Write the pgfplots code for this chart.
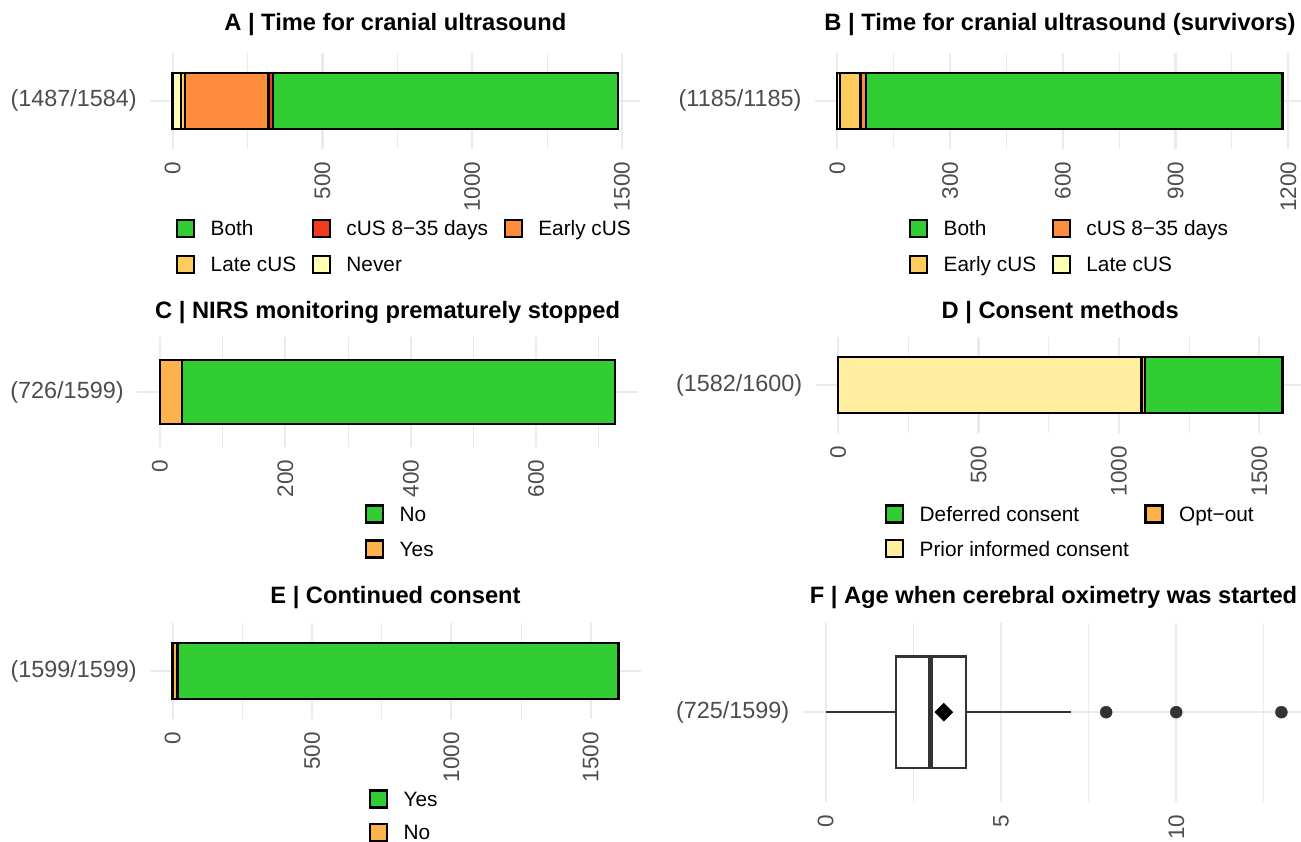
\documentclass[border=0pt]{standalone}
\usepackage{fontspec}
\setmainfont{Liberation Sans}
\usepackage{pgfplots}
\pgfplotsset{compat=1.18}
\definecolor{gridc}{HTML}{EBEBEB}
\definecolor{axc}{HTML}{4D4D4D}
\definecolor{cgreen}{HTML}{32CD32}
\definecolor{ylA}{HTML}{FFFFB2}
\definecolor{ylB}{HTML}{FECC5C}
\definecolor{orA}{HTML}{FD8D3C}
\definecolor{rdA}{HTML}{F03B20}
\definecolor{orC}{HTML}{FEB24C}
\definecolor{ylC}{HTML}{FFEDA0}
\definecolor{c33}{HTML}{333333}
\newcommand{\titlefont}{\fontsize{23.7}{28}\selectfont\bfseries}
\newcommand{\axfont}{\fontsize{22.5}{27}\selectfont}
\newcommand{\yaxfont}{\fontsize{23.4}{27}\selectfont}
\newcommand{\legfont}{\fontsize{20.8}{25}\selectfont}
\pgfplotsset{
  panel/.style={
    scale only axis, anchor=south west,
    axis line style={draw=none},
    major tick length=0pt, minor tick length=0pt,
    tick style={draw=none},
    grid=both,
    major grid style={draw=gridc, line width=2.2pt},
    minor grid style={draw=gridc, line width=1.1pt},
    ymin=0.4, ymax=1.6, ytick={1},
    scaled x ticks=false,
    /pgf/number format/.cd, 1000 sep={}, assume math mode=true, /pgfplots/.cd,
    yticklabel style={font=\yaxfont, text=axc, inner sep=0pt},
    yticklabel shift=13.4pt,
    xticklabel style={font=\axfont, text=axc, rotate=90, anchor=east, inner sep=0pt},
    xticklabel shift=12.7pt,
    title style={font=\titlefont, at={(0.5,1)}, anchor=base, inner sep=0pt},
    legend style={draw=none, fill=none, font=\legfont, inner sep=0pt, outer sep=0pt,
      /tikz/every odd column/.append style={column sep=15.5pt},
      /tikz/every even column/.append style={column sep=15.5pt},
      cells={anchor=west},
      nodes={inner sep=0pt, text height=15pt, text depth=0pt}},
    reverse legend,
  },
  seg/.style={fill=#1, draw=black, line width=2.4pt,
    legend image code/.code={\draw[fill=#1, draw=black, line width=2.2pt] (0pt,-8.5pt) rectangle (17pt,8.5pt);}},
}
\begin{document}
\begin{tikzpicture}
\path[use as bounding box] (0,0) rectangle (1301pt,842pt);
% ---------------- A
\begin{axis}[panel, at={(150.4pt,693pt)}, width=489.9pt, height=96.3pt,
  xmin=-74.35, xmax=1561.35, xbar stacked, bar width=0.7,
  xtick={0,500,1000,1500}, minor xtick={250,750,1250},
  yticklabels={(1487/1584)},
  title={A | Time for cranial ultrasound}, title style={yshift=16.5pt},
  legend columns=3,
  legend style={at={(0.0523,-0.7248)}, anchor=north west, row sep=16.8pt}]
\addplot[seg=ylA] coordinates {(27,1)}; \addlegendentry{Never}
\addplot[seg=ylB] coordinates {(15,1)}; \addlegendentry{Late cUS}
\addplot[seg=orA] coordinates {(278,1)}; \addlegendentry{Early cUS}
\addplot[seg=rdA] coordinates {(15,1)}; \addlegendentry{cUS 8−35 days}
\addplot[seg=cgreen] coordinates {(1152,1)}; \addlegendentry{Both}
\end{axis}
% ---------------- B
\begin{axis}[panel, at={(815pt,693pt)}, width=489.9pt, height=96.3pt,
  xmin=-59.25, xmax=1244.25, xbar stacked, bar width=0.7,
  xtick={0,300,600,900,1200}, minor xtick={150,450,750,1050},
  yticklabels={(1185/1185)},
  title={B | Time for cranial ultrasound (survivors)}, title style={yshift=16.5pt},
  legend columns=2,
  legend style={at={(0.1919,-0.7248)}, anchor=north west, row sep=16.8pt}]
\addplot[seg=ylA] coordinates {(8,1)}; \addlegendentry{Late cUS}
\addplot[seg=ylB] coordinates {(54,1)}; \addlegendentry{Early cUS}
\addplot[seg=orA] coordinates {(14,1)}; \addlegendentry{cUS 8−35 days}
\addplot[seg=cgreen] coordinates {(1109,1)}; \addlegendentry{Both}
\end{axis}
% ---------------- C
\begin{axis}[panel, at={(137.2pt,395.1pt)}, width=500.8pt, height=109.7pt,
  xmin=-36.3, xmax=762.3, xbar stacked, bar width=0.7,
  xtick={0,200,400,600}, minor xtick={100,300,500,700},
  yticklabels={(726/1599)},
  title={C | NIRS monitoring prematurely stopped}, title style={yshift=12.5pt},
  legend columns=1,
  legend style={at={(0.4549,-0.525)}, anchor=north west, row sep=15.8pt}]
\addplot[seg=orC] coordinates {(35,1)}; \addlegendentry{Yes}
\addplot[seg=cgreen] coordinates {(691,1)}; \addlegendentry{No}
\end{axis}
% ---------------- D
\begin{axis}[panel, at={(815.9pt,408.7pt)}, width=488.6pt, height=96pt,
  xmin=-79.1, xmax=1661.1, xbar stacked, bar width=0.7,
  xtick={0,500,1000,1500}, minor xtick={250,750,1250},
  yticklabels={(1582/1600)},
  title={D | Consent methods}, title style={yshift=12.7pt},
  legend columns=2,
  legend style={at={(0.1414,-0.7417)}, anchor=north west, row sep=15.6pt}]
\addplot[seg=ylC] coordinates {(1080,1)}; \addlegendentry{Prior informed consent}
\addplot[seg=orC] coordinates {(12,1)}; \addlegendentry{Opt−out}
\addplot[seg=cgreen] coordinates {(490,1)}; \addlegendentry{Deferred consent}
\end{axis}
% ---------------- E
\begin{axis}[panel, at={(150.4pt,122.9pt)}, width=490.2pt, height=96.2pt,
  xmin=-79.95, xmax=1678.95, xbar stacked, bar width=0.7,
  xtick={0,500,1000,1500}, minor xtick={250,750,1250},
  yticklabels={(1599/1599)},
  title={E | Continued consent}, title style={yshift=13.5pt},
  legend columns=1,
  legend style={at={(0.4459,-0.7318)}, anchor=north west, row sep=14pt}]
\addplot[seg=orC] coordinates {(18,1)}; \addlegendentry{No}
\addplot[seg=cgreen] coordinates {(1581,1)}; \addlegendentry{Yes}
\end{axis}
% ---------------- F
\begin{axis}[panel, at={(802.9pt,40.3pt)}, width=501.3pt, height=179pt,
  xmin=-0.65, xmax=13.65,
  xtick={0,5,10}, minor xtick={2.5,7.5,12.5},
  yticklabels={(725/1599)},
  title={F | Age when cerebral oximetry was started}, title style={yshift=13.5pt}]
\addplot[draw=c33, line width=2.6pt] coordinates {(0,1) (2,1)};
\addplot[draw=c33, line width=2.6pt] coordinates {(4,1) (7,1)};
\addplot[draw=c33, fill=white, line width=2.6pt] coordinates {(2,0.625) (4,0.625) (4,1.375) (2,1.375)} --cycle;
\addplot[draw=c33, line width=5pt] coordinates {(3,0.625) (3,1.375)};
\addplot[only marks, mark=*, mark size=6pt, color=c33] coordinates {(8,1) (10,1) (13,1)};
\addplot[only marks, mark=square*, mark size=6.4pt, color=black, mark options={rotate=45}] coordinates {(3.37,1)};
\end{axis}
\end{tikzpicture}
\end{document}
